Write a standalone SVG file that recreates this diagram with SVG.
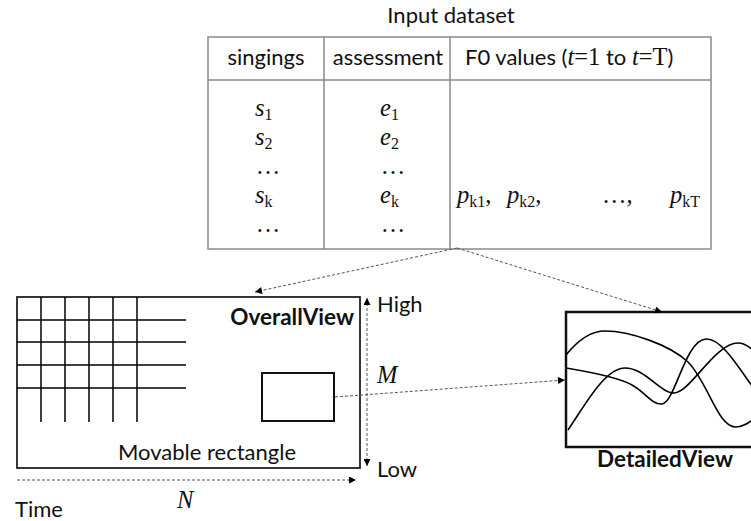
<svg xmlns="http://www.w3.org/2000/svg" width="751" height="521" viewBox="0 0 751 521">
<style>
.sans{font-family:Lato,"Open Sans","Liberation Sans",sans-serif;font-size:22px;fill:#111}
.bold{font-family:Lato,"Open Sans","Liberation Sans",sans-serif;font-size:22.5px;font-weight:bold;fill:#111}
.ser{font-family:"Liberation Serif","Times New Roman",serif;font-size:24.5px;fill:#111}
.mi{font-style:italic}
.sub{font-size:16px;font-style:normal}
.tbl{fill:none;stroke:#8a8a8a;stroke-width:1.5}
.grid{stroke:#000;stroke-width:1.5}
.dash{fill:none;stroke:#555;stroke-width:1;stroke-dasharray:3 2}
.curve{fill:none;stroke:#000;stroke-width:1.6}
</style>
<defs>
<marker id="ah" viewBox="0 0 10 10" refX="10" refY="5" markerWidth="9" markerHeight="7" markerUnits="userSpaceOnUse" orient="auto">
<path d="M0,0 L10,5 L0,10 z" fill="#000"/>
</marker>
<marker id="as" viewBox="0 0 10 10" refX="0" refY="5" markerWidth="9" markerHeight="7" markerUnits="userSpaceOnUse" orient="auto">
<path d="M10,0 L0,5 L10,10 z" fill="#000"/>
</marker>
<clipPath id="dvclip"><rect x="566" y="312" width="200" height="135"/></clipPath>
</defs>

<g id="input-dataset">
<text class="sans" x="451" y="23" text-anchor="middle">Input dataset</text>
<rect class="tbl" x="208" y="37" width="503" height="212"/>
<line class="tbl" x1="208" y1="80" x2="711" y2="80"/>
<line class="tbl" x1="324" y1="37" x2="324" y2="249"/>
<line class="tbl" x1="450" y1="37" x2="450" y2="249"/>
<text class="sans" x="266" y="65" text-anchor="middle">singings</text>
<text class="sans" x="388" y="65" text-anchor="middle">assessment</text>
<text class="sans" x="465" y="65">F0 values (<tspan class="ser mi" font-size="23">t</tspan><tspan class="ser" font-size="23">=1</tspan> to <tspan class="ser mi" font-size="23">t</tspan><tspan class="ser" font-size="23">=T</tspan>)</text>
<text class="ser" x="255" y="116"><tspan class="mi">s</tspan><tspan class="sub" dy="3.5">1</tspan></text>
<text class="ser" x="255" y="145"><tspan class="mi">s</tspan><tspan class="sub" dy="3.5">2</tspan></text>
<text class="ser" x="268" y="174" text-anchor="middle">…</text>
<text class="ser" x="255" y="203"><tspan class="mi">s</tspan><tspan class="sub" dy="3.5">k</tspan></text>
<text class="ser" x="268" y="232" text-anchor="middle">…</text>
<text class="ser" x="380" y="116"><tspan class="mi">e</tspan><tspan class="sub" dy="3.5">1</tspan></text>
<text class="ser" x="380" y="145"><tspan class="mi">e</tspan><tspan class="sub" dy="3.5">2</tspan></text>
<text class="ser" x="393" y="174" text-anchor="middle">…</text>
<text class="ser" x="380" y="203"><tspan class="mi">e</tspan><tspan class="sub" dy="3.5">k</tspan></text>
<text class="ser" x="393" y="232" text-anchor="middle">…</text>
<text class="ser" x="457" y="203"><tspan class="mi">p</tspan><tspan class="sub" dy="3.5">k1</tspan><tspan dy="-3.5">,</tspan></text>
<text class="ser" x="507" y="203"><tspan class="mi">p</tspan><tspan class="sub" dy="3.5">k2</tspan><tspan dy="-3.5">,</tspan></text>
<text class="ser" x="602" y="203">…,</text>
<text class="ser" x="670" y="203"><tspan class="mi">p</tspan><tspan class="sub" dy="3.5">kT</tspan></text>
</g>

<g id="overall-view">
<rect x="17" y="297" width="343" height="171" fill="none" stroke="#222" stroke-width="1.8"/>
<g class="grid">
<line x1="41" y1="297" x2="41" y2="422"/>
<line x1="65" y1="297" x2="65" y2="422"/>
<line x1="89" y1="297" x2="89" y2="422"/>
<line x1="113" y1="297" x2="113" y2="422"/>
<line x1="137" y1="297" x2="137" y2="422"/>
<line x1="17" y1="320" x2="186" y2="320"/>
<line x1="17" y1="342" x2="186" y2="342"/>
<line x1="17" y1="365" x2="186" y2="365"/>
<line x1="17" y1="388" x2="186" y2="388"/>
</g>
<text class="bold" x="354" y="325" text-anchor="end">OverallView</text>
<text class="sans" x="207" y="460" text-anchor="middle" font-size="23">Movable rectangle</text>
</g>

<g id="movable-rectangle">
<rect x="262" y="373" width="72" height="48" fill="none" stroke="#111" stroke-width="2"/>
</g>

<g id="detailed-view">
<rect x="566" y="312" width="200" height="135" fill="none" stroke="#111" stroke-width="2.5"/>
<g clip-path="url(#dvclip)">
<path class="curve" d="M566,355 C578,340 590,331 605,331 C630,331 670,345 688,362 C708,382 718,428 736,427 C744,427 750,422 755,418"/>
<path class="curve" d="M566,368 C590,372 620,378 632,385 C645,392 652,405 662,404 C675,403 685,340 706,339 C722,338 740,370 755,390"/>
<path class="curve" d="M568,430 C585,405 605,368 625,368 C645,368 660,393 674,393 C690,393 715,343 738,343 C745,343 750,347 755,352"/>
</g>
<text class="bold" x="665" y="467" text-anchor="middle" font-size="24">DetailedView</text>
</g>

<g id="axes-labels">
<text class="sans" x="377" y="312">High</text>
<text class="ser mi" x="377" y="383" font-size="24">M</text>
<text class="sans" x="377" y="477">Low</text>
<text class="sans" x="15" y="517">Time</text>
<text class="ser mi" x="177" y="508" font-size="24">N</text>
</g>

<g id="connectors">
<polyline class="dash" points="457,248 255,292" marker-end="url(#ah)"/>
<polyline class="dash" points="457,248 662,312" marker-end="url(#ah)"/>
<line class="dash" x1="335" y1="397" x2="565" y2="380" marker-end="url(#ah)"/>
<line class="dash" x1="17" y1="480" x2="356" y2="480" marker-end="url(#ah)"/>
<line class="dash" x1="367" y1="298" x2="367" y2="466" marker-start="url(#as)" marker-end="url(#ah)"/>
</g>
</svg>
